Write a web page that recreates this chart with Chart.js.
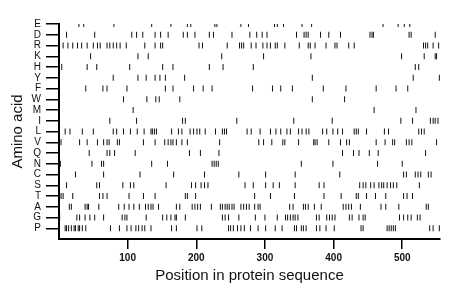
<!DOCTYPE html>
<html>
<head>
<meta charset="utf-8">
<script src="https://cdn.jsdelivr.net/npm/chart.js@4/dist/chart.umd.min.js"></script>
<style>
	html, body { margin: 0; padding: 0; background: #fff; }
	#wrap { width: 460px; height: 299px; }
</style>
</head>
<body>
<div id="wrap"><canvas id="chart"></canvas></div>
<script>
// rows, top to bottom
var aminoAcids = ['E', 'D', 'R', 'K', 'H', 'Y', 'F', 'W', 'M', 'I', 'L', 'V', 'Q', 'N', 'C', 'S', 'T', 'A', 'G', 'P'];

var xTicks = [100, 200, 300, 400, 500];
var seqLength = 555;

// positions of each residue in the sequence
var posE = [29, 36, 80, 135, 163, 187, 192, 227, 230, 265, 276, 314, 318, 327, 354, 368, 472, 494, 503, 511];
var posD = [11, 52, 106, 113, 122, 140, 148, 159, 181, 187, 198, 219, 225, 252, 278, 288, 296, 303, 346, 357, 360, 363, 381, 393, 410, 453, 456, 458, 510, 513, 548];
var posR = [6, 13, 20, 27, 33, 41, 50, 56, 60, 70, 74, 79, 84, 89, 98, 125, 140, 148, 151, 204, 209, 245, 263, 266, 269, 280, 287, 297, 303, 308, 315, 318, 329, 350, 363, 366, 373, 389, 402, 405, 422, 430, 531, 534, 537, 545, 553];
var posK = [46, 115, 130, 237, 298, 367, 499, 532, 548, 550];
var posH = [4, 41, 55, 103, 151, 166, 219, 239, 283, 519, 524];
var posY = [79, 115, 127, 140, 147, 155, 183, 369, 516, 554];
var posF = [39, 64, 70, 99, 155, 166, 196, 210, 223, 282, 311, 323, 340, 385, 418, 462, 491, 508];
var posW = [94, 128, 141, 146, 176, 369, 416];
var posM = [108, 459, 520];
var posI = [74, 113, 180, 184, 259, 342, 398, 498, 515, 541, 545, 548, 552];
var posL = [9, 16, 34, 50, 79, 84, 94, 104, 114, 124, 134, 136, 139, 142, 164, 174, 179, 191, 196, 201, 205, 213, 228, 238, 241, 244, 274, 280, 293, 308, 316, 323, 332, 337, 349, 354, 360, 364, 384, 390, 399, 406, 413, 430, 433, 436, 448, 474, 480, 524, 528, 532];
var posV = [3, 30, 41, 56, 65, 70, 73, 85, 88, 123, 140, 154, 159, 163, 166, 171, 179, 187, 234, 291, 298, 310, 326, 329, 349, 371, 373, 376, 393, 410, 419, 423, 462, 475, 486, 489, 506, 510, 514, 550];
var posQ = [44, 70, 74, 81, 111, 190, 206, 233, 413, 429, 437, 452, 465, 534];
var posN = [2, 48, 62, 65, 135, 158, 223, 226, 229, 232, 353, 399, 464, 500];
var posC = [24, 65, 118, 167, 212, 262, 301, 344, 409, 502, 506, 519, 523, 527, 538, 542];
var posS = [11, 55, 59, 93, 104, 109, 156, 193, 199, 207, 212, 217, 271, 283, 301, 312, 321, 344, 379, 386, 438, 443, 447, 454, 459, 466, 470, 473, 478, 483, 487, 492, 525];
var posT = [3, 6, 20, 59, 64, 70, 102, 123, 140, 184, 187, 199, 285, 308, 343, 386, 411, 433, 436, 448, 461, 476, 502, 507, 515];
var posA = [15, 18, 38, 41, 43, 58, 87, 95, 102, 109, 117, 126, 130, 134, 137, 145, 171, 176, 194, 198, 202, 206, 222, 235, 238, 242, 245, 248, 252, 255, 265, 269, 273, 277, 285, 290, 293, 336, 341, 356, 359, 363, 372, 382, 414, 418, 422, 426, 439, 469, 476, 495, 535, 538];
var posG = [1, 26, 30, 38, 45, 52, 65, 92, 96, 99, 127, 151, 157, 163, 169, 171, 184, 238, 242, 247, 262, 286, 300, 318, 330, 333, 337, 341, 344, 348, 375, 379, 390, 394, 398, 402, 423, 427, 437, 443, 446, 496, 502, 508, 513, 522, 526];
var posP = [9, 11, 14, 18, 22, 24, 28, 30, 34, 39, 75, 88, 99, 105, 112, 116, 121, 125, 134, 164, 171, 201, 208, 247, 250, 254, 260, 265, 270, 279, 290, 301, 315, 325, 343, 346, 353, 356, 360, 375, 380, 389, 401, 440, 443, 478, 481, 484, 487, 490, 540, 545, 554];

var positions = [posE, posD, posR, posK, posH, posY, posF, posW, posM, posI,
	posL, posV, posQ, posN, posC, posS, posT, posA, posG, posP];

var points = [];
positions.forEach(function(list, row) {
	list.forEach(function(p) {
		points.push({ x: p, y: row });
	});
});

var fontFamily = "'Liberation Sans', Arial, Helvetica, sans-serif";

new Chart(document.getElementById('chart'), {
	type: 'scatter',
	data: {
		datasets: [{
			data: points,
			pointStyle: 'line',
			rotation: 90,
			radius: 3,
			borderWidth: 1,
			borderColor: '#111',
			backgroundColor: '#111'
		}]
	},
	options: {
		responsive: true,
		maintainAspectRatio: false,
		animation: false,
		events: [],
		layout: {
			padding: { top: 24, right: 20, left: 0, bottom: 0 }
		},
		plugins: {
			legend: { display: false },
			tooltip: { enabled: false }
		},
		scales: {
			x: {
				type: 'linear',
				min: 0,
				max: seqLength,
				afterBuildTicks: function(scale) {
					scale.ticks = xTicks.map(function(v) { return { value: v }; });
				},
				afterFit: function(scale) {
					scale.height = 60;
				},
				ticks: {
					autoSkip: false,
					maxRotation: 0,
					padding: 3,
					color: '#111',
					font: { family: fontFamily, size: 10, weight: 'bold' }
				},
				grid: {
					drawOnChartArea: false,
					drawTicks: true,
					tickLength: 10,
					color: '#000',
					lineWidth: 1.5
				},
				border: { display: true, color: '#000', width: 2 },
				title: {
					display: true,
					text: 'Position in protein sequence',
					color: '#111',
					padding: { top: 0, bottom: 14 },
					font: { family: fontFamily, size: 15 }
				}
			},
			y: {
				type: 'linear',
				reverse: true,
				min: 0,
				max: 20,
				afterBuildTicks: function(scale) {
					scale.ticks = aminoAcids.map(function(a, i) { return { value: i }; });
				},
				afterFit: function(scale) {
					scale.width = 59;
				},
				ticks: {
					autoSkip: false,
					padding: 5,
					color: '#111',
					font: { family: fontFamily, size: 10 },
					callback: function(value) {
						return aminoAcids[value];
					}
				},
				grid: {
					drawOnChartArea: false,
					drawTicks: true,
					tickLength: 13,
					color: '#000',
					lineWidth: 1.5
				},
				border: { display: true, color: '#000', width: 2 },
				title: {
					display: true,
					text: 'Amino acid',
					color: '#111',
					padding: { top: 9, bottom: 0 },
					font: { family: fontFamily, size: 15 }
				}
			}
		}
	}
});
</script>
</body>
</html>
